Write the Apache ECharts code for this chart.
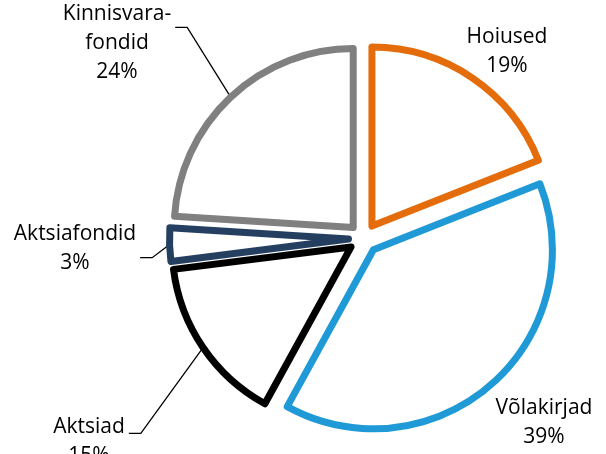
<!DOCTYPE html>
<html>
<head>
<meta charset="utf-8">
<script src="https://cdn.jsdelivr.net/npm/echarts@6/dist/echarts.min.js"></script>
<style>
html, body { margin: 0; padding: 0; background: #fff; }
#main { width: 606px; height: 454px; }
</style>
</head>
<body>
<div id="main"></div>
<script>
var names = ['Hoiused', 'Võlakirjad', 'Aktsiad', 'Aktsiafondid', 'Kinnisvara-\nfondid'];
var values = [19, 39, 15, 3, 24];
var colors = ['#E46C0A', '#1F9AD6', '#000000', '#243F60', '#808080'];
var showLine = [false, false, true, true, true];
// where each label sits (centre of text block) and where its leader line meets it (share of height)
var labelPos = [[507, 52], [544, 423], [89, 442], [75, 249], [117, 43]];
var lineAt = [0.5, 0.5, 0.35, 0.65, 0.32];

var cx = 363.5, cy = 238.5, explode = 15;

var myChart = echarts.init(document.getElementById('main'), null, {renderer: 'canvas'});

var total = 0;
for (var i = 0; i < values.length; i++) total += values[i];

// one series per slice, each moved out along its own middle angle (exploded pie)
var series = [];
var cum = 0;
for (var s = 0; s < values.length; s++) {
    var mid = (90 - 360 * (cum + values[s] / 2) / total) * Math.PI / 180;
    cum += values[s];
    var data = [];
    for (var i = 0; i < names.length; i++) {
        if (i == s) {
            data.push({
                name: names[i],
                value: values[i],
                itemStyle: {color: '#ffffff', borderColor: colors[i], borderWidth: 7, borderJoin: 'round'},
                labelLine: {show: showLine[i]}
            });
        } else {
            data.push({
                name: names[i],
                value: values[i],
                itemStyle: {color: 'rgba(0,0,0,0)', borderWidth: 0},
                label: {show: false},
                labelLine: {show: false}
            });
        }
    }
    series.push({
        type: 'pie',
        center: [cx + explode * Math.cos(mid), cy - explode * Math.sin(mid)],
        radius: 179,
        startAngle: 90,
        clockwise: true,
        percentPrecision: 0,
        avoidLabelOverlap: false,
        silent: true,
        emphasis: {disabled: true},
        label: {
            show: true,
            position: 'outside',
            formatter: '{b}\n{d}%',
            fontFamily: 'Open Sans',
            fontSize: 21,
            lineHeight: 29,
            color: '#000',
            overflow: 'none'
        },
        labelLine: {
            show: true,
            length: 20,
            length2: 12,
            lineStyle: {color: '#000', width: 1.3}
        },
        labelLayout: function (params) {
            var k = params.dataIndex;
            var p = labelPos[k];
            var out = {x: p[0], y: p[1], align: 'center', verticalAlign: 'middle'};
            var pts = params.labelLinePoints;
            if (showLine[k] && pts && pts.length) {
                var w = params.labelRect.width, h = params.labelRect.height;
                var edge = p[0] + w / 2 + 4;
                var ly = p[1] - h / 2 + h * lineAt[k];
                out.labelLinePoints = [pts[0], [edge + 12, ly], [edge, ly]];
            }
            return out;
        },
        data: data
    });
}

myChart.setOption({animation: false, series: series});
</script>
</body>
</html>
